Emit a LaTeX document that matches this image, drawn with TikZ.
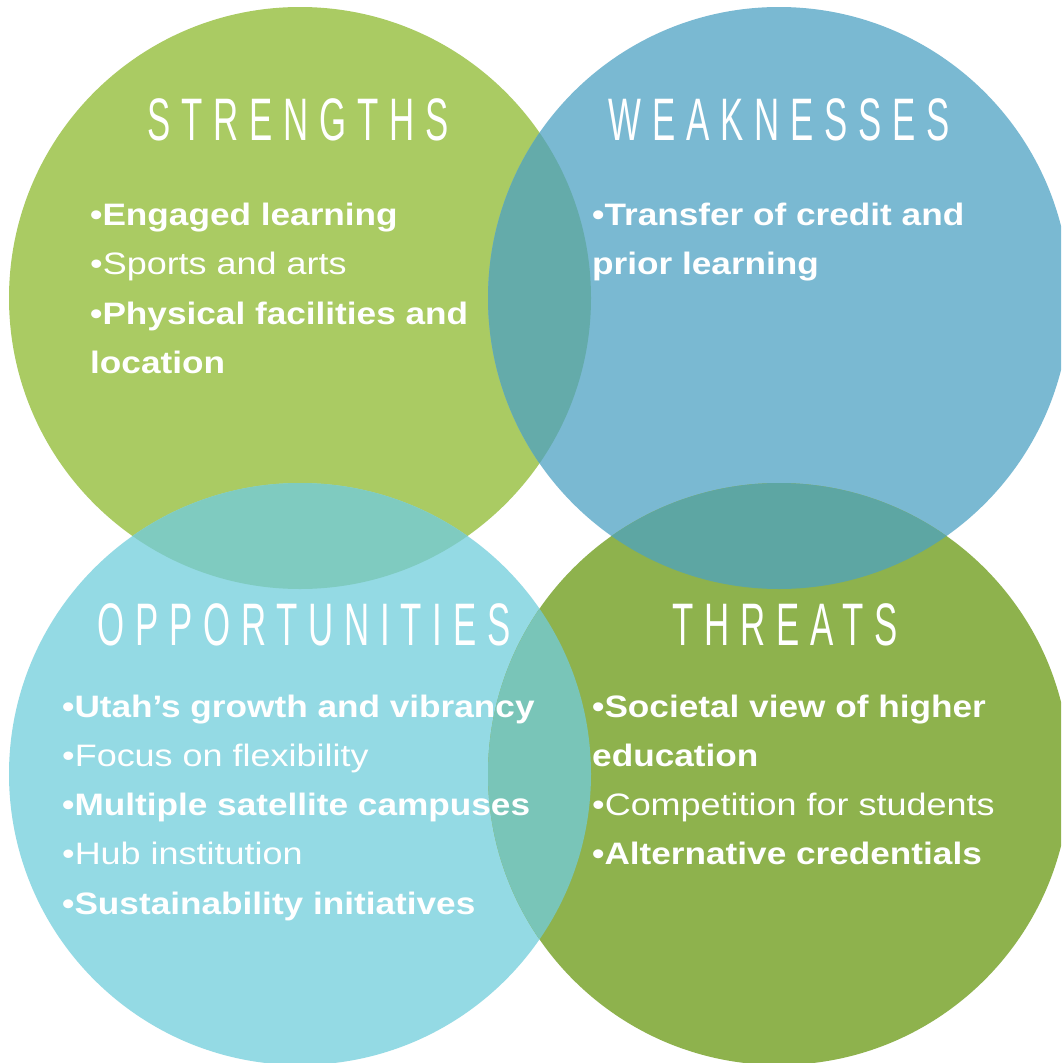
\documentclass[tikz,border=0pt]{standalone}
\usepackage{fontspec}
\setmainfont{Liberation Sans}
\newfontfamily\headfont[FakeStretch=0.58,LetterSpace=18]{Liberation Sans}
\newfontfamily\plainfont[FakeStretch=1.16]{Liberation Sans}
\newfontfamily\strongfont[FakeStretch=1.135]{Liberation Sans}

\definecolor{strengthC}{HTML}{AACB63}
\definecolor{weakC}{HTML}{7AB9D2}
\definecolor{opportC}{HTML}{94DAE4}
\definecolor{threatC}{HTML}{8EB24D}
\definecolor{swC}{HTML}{64ABAA}
\definecolor{wtC}{HTML}{5DA6A3}
\definecolor{soC}{HTML}{7FCBC0}
\definecolor{otC}{HTML}{79C5B8}

\tikzset{
  heading/.style={anchor=base, text=white, inner sep=0pt,
    font=\headfont\fontsize{60}{60}\selectfont},
  plainitem/.style={anchor=base west, text=white, inner sep=0pt,
    font=\plainfont\fontsize{31}{37}\selectfont},
  bolditem/.style={plainitem, font=\strongfont\fontsize{31}{37}\selectfont\bfseries},
}

\begin{document}
\begin{tikzpicture}[x=1pt,y=-1pt]
\useasboundingbox (0,0) rectangle (1061,1063);
\clip (0,0) rectangle (1061,1063);
\fill[white] (0,0) rectangle (1061,1063);

% circle centres
\coordinate (cS) at (300,298);
\coordinate (cW) at (779,298);
\coordinate (cO) at (300,774);
\coordinate (cT) at (779,774);
\def\rad{291}

% the four discs
\fill[strengthC] (cS) circle[radius=\rad];
\fill[weakC] (cW) circle[radius=\rad];
\fill[opportC] (cO) circle[radius=\rad];
\fill[threatC] (cT) circle[radius=\rad];

% overlapping lenses
\begin{scope}
  \clip (cS) circle[radius=\rad];
  \fill[swC] (cW) circle[radius=\rad];
  \fill[soC] (cO) circle[radius=\rad];
\end{scope}
\begin{scope}
  \clip (cT) circle[radius=\rad];
  \fill[wtC] (cW) circle[radius=\rad];
  \fill[otC] (cO) circle[radius=\rad];
\end{scope}

% headings
\node[heading] (hS) at (298,140) {STRENGTHS};
\node[heading] (hW) at (779,140) {WEAKNESSES};
\node[heading] (hO) at (304,645) {OPPORTUNITIES};
\node[heading] (hT) at (785,645) {THREATS};

% strengths
\node[bolditem]  (s1) at (90,225) {•Engaged learning};
\node[plainitem] (s2) at (90,274) {•Sports and arts};
\node[bolditem]  (s3) at (90,324) {•Physical facilities and};
\node[bolditem]  (s4) at (90,373) {location};

% weaknesses
\node[bolditem] (w1) at (592,225) {•Transfer of credit and};
\node[bolditem] (w2) at (592,274) {prior learning};

% opportunities
\node[bolditem]  (o1) at (62,717) {•Utah’s growth and vibrancy};
\node[plainitem] (o2) at (62,766) {•Focus on flexibility};
\node[bolditem]  (o3) at (62,815) {•Multiple satellite campuses};
\node[plainitem] (o4) at (62,864) {•Hub institution};
\node[bolditem]  (o5) at (62,914) {•Sustainability initiatives};

% threats
\node[bolditem]  (t1) at (592,717) {•Societal view of higher};
\node[bolditem]  (t2) at (592,766) {education};
\node[plainitem] (t3) at (592,815) {•Competition for students};
\node[bolditem]  (t4) at (592,864) {•Alternative credentials};
\end{tikzpicture}
\end{document}
